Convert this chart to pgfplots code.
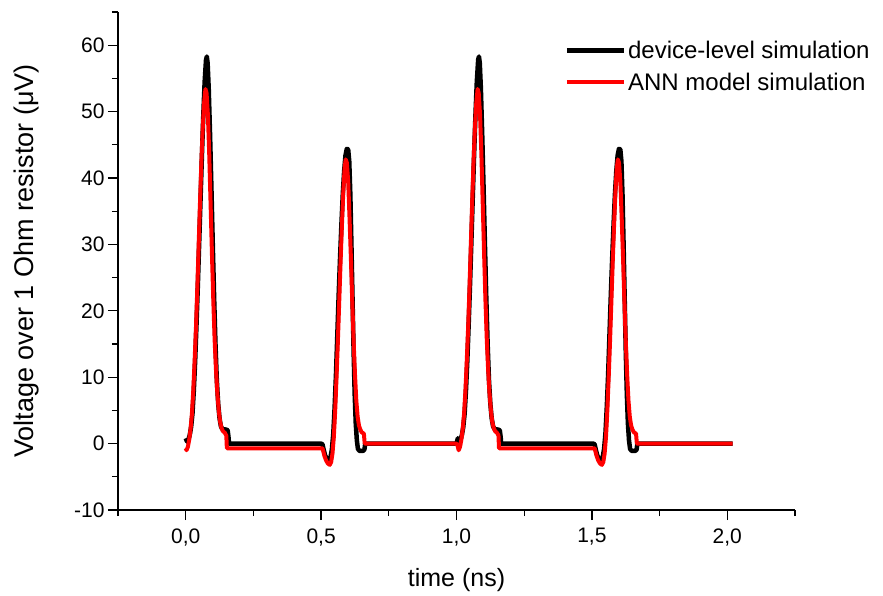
\documentclass[border=0pt]{standalone}
\usepackage{fontspec}
\setmainfont{Liberation Sans}
\usepackage{pgfplots}
\pgfplotsset{compat=1.18}
\begin{document}
\begin{tikzpicture}
\useasboundingbox (-118pt,-85pt) rectangle (765pt,510pt);
\begin{axis}[
  scale only axis, width=677pt, height=498pt,
  at={(0pt,0pt)}, anchor=south west,
  xmin=-0.25, xmax=2.25, ymin=-10, ymax=65,
  axis lines=left, axis line style={-, line width=1.3pt},
  xtick={0,0.5,1,1.5,2}, minor xtick={-0.25,0.25,0.75,1.25,1.75,2.25},
  ytick={-10,0,10,20,30,40,50,60}, minor ytick={-5,5,15,25,35,45,55,65},
  tick align=outside, major tick length=10pt, minor tick length=6pt,
  tick style={black, line width=1.3pt},
  /pgf/number format/assume math mode=true,
  xticklabel style={/pgf/number format/.cd, fixed, fixed zerofill, precision=1, use comma},
  ticklabel style={font=\fontsize{21}{25}\selectfont},
  xticklabel shift=5pt,
  xlabel style={font=\fontsize{25}{30}\selectfont},
  ylabel style={font=\fontsize{27}{32}\selectfont},
  xlabel shift=16pt, ylabel shift=28pt,
  xlabel={time (ns)}, ylabel={Voltage over 1 Ohm resistor (μV)},
  legend style={at={(0.655,0.95)}, anchor=north west, draw=none, fill=none,
    font=\fontsize{24}{29}\selectfont, row sep=9pt},
  legend cell align=left,
  legend image code/.code={\draw[#1] (0pt,0pt) -- (57pt,0pt);},
]
\addplot[black, line width=4.5pt, line join=round] coordinates {
(0.000,0.8) (0.005,0.3) (0.010,0.6) (0.015,1.3) (0.020,2.5) (0.025,4.5) (0.030,8) (0.035,12.5)
(0.040,18) (0.045,24) (0.050,30.5) (0.055,37) (0.060,43.5) (0.065,49.5) (0.070,54.5) (0.075,57.8)
(0.078,58.3) (0.081,57.3) (0.085,53.5) (0.090,46.5) (0.095,38.5) (0.100,30) (0.105,22) (0.110,15)
(0.115,9.5) (0.120,6) (0.125,3.8) (0.130,2.6) (0.135,2.2) (0.150,2.1) (0.155,2.0) (0.158,1.0) (0.160,0)
(0.500,0) (0.505,-0.1) (0.510,-1.0) (0.515,-1.8) (0.520,-2.2) (0.525,-2.5) (0.530,-2.5) (0.535,-2.0)
(0.540,-0.8) (0.545,1.5) (0.550,5.5) (0.555,10.5) (0.560,16.5) (0.565,22.5) (0.570,28) (0.575,33)
(0.580,37.5) (0.585,41) (0.590,43.4) (0.595,44.4) (0.600,44.3) (0.604,42.5) (0.608,37.5) (0.612,30)
(0.616,22) (0.620,14) (0.624,7.5) (0.628,3) (0.632,0.5) (0.636,-0.8) (0.642,-1.1) (0.655,-1.1)
(0.660,-0.9) (0.663,0)
(1.000,0) (1.005,0.8) (1.010,0.3) (1.015,0.6) (1.020,1.3) (1.025,2.5) (1.030,4.5) (1.035,8)
(1.040,12.5) (1.045,18) (1.050,24) (1.055,30.5) (1.060,37) (1.065,43.5) (1.070,49.5) (1.075,54.5)
(1.080,57.8) (1.083,58.3) (1.086,57.3) (1.090,53.5) (1.095,46.5) (1.100,38.5) (1.105,30) (1.110,22)
(1.115,15) (1.120,9.5) (1.125,6) (1.130,3.8) (1.135,2.6) (1.140,2.2) (1.155,2.1) (1.160,2.0)
(1.163,1.0) (1.165,0)
(1.505,0) (1.510,-0.1) (1.515,-1.0) (1.520,-1.8) (1.525,-2.2) (1.530,-2.5) (1.535,-2.5) (1.540,-2.0)
(1.545,-0.8) (1.550,1.5) (1.555,5.5) (1.560,10.5) (1.565,16.5) (1.570,22.5) (1.575,28) (1.580,33)
(1.585,37.5) (1.590,41) (1.595,43.4) (1.600,44.4) (1.605,44.3) (1.609,42.5) (1.613,37.5) (1.617,30)
(1.621,22) (1.625,14) (1.629,7.5) (1.633,3) (1.637,0.5) (1.641,-0.8) (1.647,-1.1) (1.660,-1.1)
(1.665,-0.9) (1.668,0) (2.020,0)
};
\addlegendentry{device-level simulation}
\addplot[red, line width=4pt, line join=round] coordinates {
(0.000,-0.7) (0.003,-1.0) (0.008,-0.5) (0.013,0.6) (0.018,2.2) (0.023,4.5) (0.028,8) (0.033,12.5)
(0.038,17.5) (0.043,23.5) (0.048,30) (0.053,36.5) (0.058,42.5) (0.063,47.5) (0.068,51.3) (0.073,53.4)
(0.077,52.8) (0.082,49.5) (0.087,43.5) (0.092,36) (0.097,28.5) (0.102,21.5) (0.107,15.5) (0.112,11)
(0.117,7.5) (0.122,5) (0.127,3.3) (0.132,2.4) (0.137,1.9) (0.145,1.6) (0.150,1.2) (0.152,-0.7)
(0.505,-0.7) (0.507,-1.0) (0.512,-1.8) (0.518,-2.5) (0.525,-3.0) (0.532,-3.2) (0.537,-2.8) (0.542,-1.5)
(0.547,1) (0.552,5) (0.557,10) (0.562,15.5) (0.567,21.5) (0.572,27.5) (0.577,33) (0.582,38)
(0.587,41.5) (0.591,42.8) (0.595,42.3) (0.600,39.5) (0.605,34) (0.610,28) (0.615,21.5) (0.620,15.5)
(0.625,10.5) (0.630,6.5) (0.635,4) (0.640,2.7) (0.645,2.1) (0.650,1.7) (0.658,1.5) (0.661,0)
(1.000,0) (1.004,-0.3) (1.008,-1.0) (1.013,-0.5) (1.018,0.6) (1.023,2.2) (1.028,4.5) (1.033,8)
(1.038,12.5) (1.043,17.5) (1.048,23.5) (1.053,30) (1.058,36.5) (1.063,42.5) (1.068,47.5) (1.073,51.3)
(1.078,53.4) (1.082,52.8) (1.087,49.5) (1.092,43.5) (1.097,36) (1.102,28.5) (1.107,21.5) (1.112,15.5)
(1.117,11) (1.122,7.5) (1.127,5) (1.132,3.3) (1.137,2.4) (1.142,1.9) (1.150,1.6) (1.155,1.2)
(1.157,-0.7)
(1.510,-0.7) (1.512,-1.0) (1.517,-1.8) (1.523,-2.5) (1.530,-3.0) (1.537,-3.2) (1.542,-2.8) (1.547,-1.5)
(1.552,1) (1.557,5) (1.562,10) (1.567,15.5) (1.572,21.5) (1.577,27.5) (1.582,33) (1.587,38)
(1.592,41.5) (1.596,42.8) (1.600,42.3) (1.605,39.5) (1.610,34) (1.615,28) (1.620,21.5) (1.625,15.5)
(1.630,10.5) (1.635,6.5) (1.640,4) (1.645,2.7) (1.650,2.1) (1.655,1.7) (1.663,1.5) (1.666,0)
(2.020,0)
};
\addlegendentry{ANN model simulation}
\end{axis}
\end{tikzpicture}
\end{document}
